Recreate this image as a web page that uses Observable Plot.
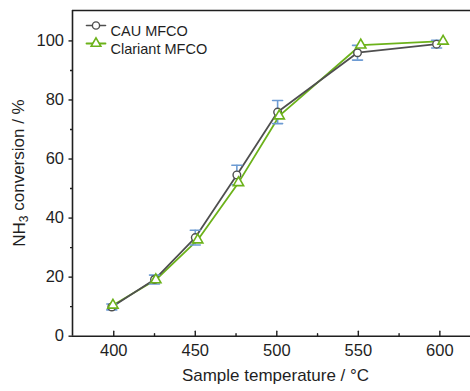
<!DOCTYPE html>
<html>
<head>
<meta charset="utf-8">
<script src="https://cdn.jsdelivr.net/npm/d3@7"></script>
<script src="https://cdn.jsdelivr.net/npm/@observablehq/plot@0.6"></script>
<style>
  html, body { margin: 0; padding: 0; background: #fff; }
  #chart svg { display: block; }
</style>
</head>
<body>
<div id="chart"></div>
<script>
// ---- data ----
const seriesNames = ["CAU MFCO", "Clariant MFCO"];
const cauTemps = [398.8, 425, 450, 475.5, 500.5, 549.5, 598];
const cauValues = [9.9, 19.2, 33.4, 54.6, 75.9, 96.0, 98.9];
const cauErrors = [1.0, 1.5, 2.5, 3.3, 3.9, 2.5, 1.3];
const clariantTemps = [399.5, 425.8, 451.5, 476.5, 501.5, 551.5, 602];
const clariantValues = [10.5, 19.1, 32.6, 52.0, 74.6, 98.6, 99.9];
const xTickValues = [400, 450, 500, 550, 600];
const xMinorTicks = [425, 475, 525, 575];
const yTickValues = [0, 20, 40, 60, 80, 100];
const yMinorTicks = [10, 30, 50, 70, 90];
const xLabel = "Sample temperature / °C";
const xDomain = [374.7, 618.8];
const yDomain = [0, 110.3];

// ---- tables ----
const cau = cauTemps.map((t, i) => ({t, v: cauValues[i], e: cauErrors[i]}));
const clariant = clariantTemps.map((t, i) => ({t, v: clariantValues[i]}));

const axisColor = "#1f1f1f";
const grey = "#4f4f4f";
const green = "#6cb21a";
const blue = "#6d9bd3";
const font = "'Liberation Sans', Arial, sans-serif";

const lineShape = {draw(context, l) { context.moveTo(0, 0); context.lineTo(0, -l); }};

const chart = Plot.plot({
  width: 470,
  height: 391,
  marginLeft: 72,
  marginRight: 0,
  marginTop: 10,
  marginBottom: 55.3,
  style: {fontFamily: font, fontSize: "16.5px", color: axisColor, background: "white"},
  x: {domain: xDomain},
  y: {domain: yDomain},
  marks: [
    // frame lines
    Plot.ruleY([yDomain[0], yDomain[1]], {stroke: axisColor, strokeWidth: 1.6}),
    Plot.ruleX([xDomain[0]], {stroke: axisColor, strokeWidth: 1.6}),
    // y axis (outward ticks)
    Plot.axisY(yTickValues, {tickSize: 3.5, tickPadding: 5, label: null, stroke: axisColor, strokeWidth: 1.4, fontSize: 16.5}),
    Plot.axisY(yMinorTicks, {tickSize: 2, tickFormat: () => "", label: null, stroke: axisColor, strokeWidth: 1.4}),
    // x axis labels
    Plot.axisX(xTickValues, {tickSize: 0, tickPadding: 8, label: null, fontSize: 16.5}),
    // x axis inward ticks
    Plot.vector(xTickValues, {x: d => d, frameAnchor: "bottom", length: 5, rotate: 0, anchor: "start", shape: lineShape, stroke: axisColor, strokeWidth: 1.4}),
    Plot.vector(xMinorTicks, {x: d => d, frameAnchor: "bottom", length: 2.5, rotate: 0, anchor: "start", shape: lineShape, stroke: axisColor, strokeWidth: 1.4}),
    // series lines
    Plot.line(clariant, {x: "t", y: "v", stroke: green, strokeWidth: 1.8}),
    Plot.line(cau, {x: "t", y: "v", stroke: grey, strokeWidth: 1.8}),
    // error bars
    Plot.ruleX(cau, {x: "t", y1: d => d.v - d.e, y2: d => d.v + d.e, stroke: blue, strokeWidth: 1.6}),
    Plot.vector(cau, {x: "t", y: d => d.v - d.e, length: 10, rotate: 90, anchor: "middle", shape: lineShape, stroke: blue, strokeWidth: 1.6}),
    Plot.vector(cau, {x: "t", y: d => d.v + d.e, length: 10, rotate: 90, anchor: "middle", shape: lineShape, stroke: blue, strokeWidth: 1.6}),
    // markers
    Plot.dot(cau, {x: "t", y: "v", r: 3.8, symbol: "circle", stroke: grey, fill: "white", strokeWidth: 1.4}),
    Plot.dot(clariant, {x: "t", y: "v", r: 3.8, symbol: "triangle", stroke: green, fill: "white", strokeWidth: 1.6}),
    // legend
    Plot.vector([seriesNames[0]], {frameAnchor: "top-left", dx: 14, dy: 15, length: 19, rotate: 90, anchor: "start", shape: lineShape, stroke: grey, strokeWidth: 1.6}),
    Plot.dot([seriesNames[0]], {frameAnchor: "top-left", dx: 23.5, dy: 15, r: 3.6, symbol: "circle", stroke: grey, fill: "white", strokeWidth: 1.4}),
    Plot.text([seriesNames[0]], {text: d => d, frameAnchor: "top-left", dx: 38, dy: 15, textAnchor: "start", fontSize: 14.5, fill: axisColor}),
    Plot.vector([seriesNames[1]], {frameAnchor: "top-left", dx: 14, dy: 33, length: 19, rotate: 90, anchor: "start", shape: lineShape, stroke: green, strokeWidth: 1.8}),
    Plot.dot([seriesNames[1]], {frameAnchor: "top-left", dx: 23.5, dy: 33, r: 3.6, symbol: "triangle", stroke: green, fill: "white", strokeWidth: 1.6}),
    Plot.text([seriesNames[1]], {text: d => d, frameAnchor: "top-left", dx: 38, dy: 33, textAnchor: "start", fontSize: 14.5, fill: axisColor}),
    // x axis title
    Plot.text([xLabel], {text: d => d, frameAnchor: "bottom", dx: 4, dy: 45, fontSize: 17, fill: axisColor})
  ]
});

// y axis title with subscript
const svg = d3.select(chart);
const yTitle = svg.append("text")
  .attr("transform", "translate(21,173) rotate(-90)")
  .attr("text-anchor", "middle")
  .attr("dominant-baseline", "middle")
  .attr("font-family", font)
  .attr("font-size", 17)
  .attr("fill", axisColor);
yTitle.append("tspan").text("NH");
yTitle.append("tspan").attr("font-size", 12).attr("dy", "0.3em").text("3");
yTitle.append("tspan").attr("dy", "-0.25em").text(" conversion / %");

document.getElementById("chart").append(chart);
</script>
</body>
</html>
